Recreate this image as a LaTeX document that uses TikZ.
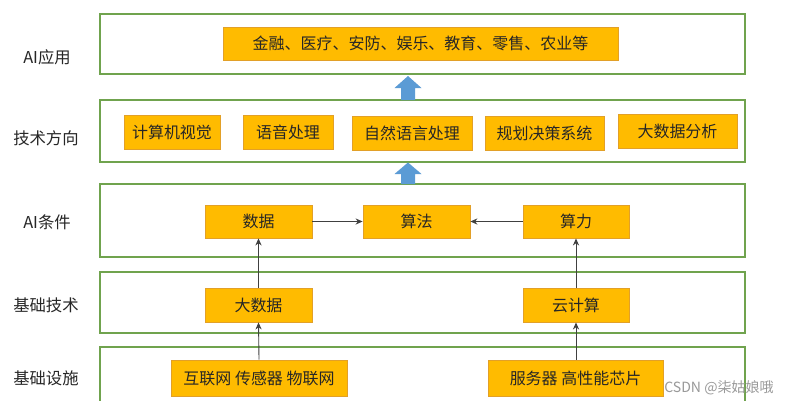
\documentclass[tikz,border=0pt]{standalone}
\usepackage{fontspec}
\setmainfont{Noto Sans CJK SC}
\usetikzlibrary{positioning}
\usetikzlibrary{arrows.meta}
\definecolor{bandgreen}{RGB}{112,163,78}
\definecolor{boxorange}{RGB}{255,187,0}
\definecolor{boxedge}{RGB}{226,160,40}
\definecolor{arrowblue}{RGB}{91,155,213}
\begin{document}
\begin{tikzpicture}[x=0.02cm,y=-0.02cm,
  band/.style={draw=bandgreen,line width=1.4pt},
  item/.style={rectangle,draw=boxedge,fill=boxorange,line width=0.5pt,inner sep=0pt,font=\fontsize{9.1}{11}\selectfont,text=black!85},
  layer/.style={font=\fontsize{9.3}{11}\selectfont,text=black!85},
  feed/.style={draw=black!75,line width=0.5pt,-{Stealth[length=4pt,width=3.5pt]}}]
\useasboundingbox (0,0) rectangle (789,400);
\fill[white] (0,0) rectangle (789,400);
\draw[band] (100,14) rectangle (745,74);
\draw[band] (100,100) rectangle (745,162);
\draw[band] (100,184) rectangle (745,257);
\draw[band] (100,272) rectangle (745,333);
\draw[band] (100,347) rectangle (745,412);

\node[layer] (lapp) at (47,57) {AI应用};
\node[layer] (ldir) at (46,138) {技术方向};
\node[layer] (lcond) at (47,222) {AI条件};
\node[layer] (lbase) at (46,305) {基础技术};
\node[layer] (linfra) at (46,378) {基础设施};

\node[item,minimum width=7.9cm,minimum height=0.66cm] (apps) at (420.5,43.5) {金融、医疗、安防、娱乐、教育、零售、农业等};

\node[item,minimum width=1.92cm,minimum height=0.68cm] (cv) at (172,132) {计算机视觉};
\node[item,minimum width=1.8cm,minimum height=0.68cm] (speech) at (288,132) {语音处理};
\node[item,minimum width=2.4cm,minimum height=0.68cm] (nlp) at (412,133.5) {自然语言处理};
\node[item,minimum width=2.38cm,minimum height=0.68cm] (plan) at (544.5,133) {规划决策系统};
\node[item,minimum width=2.38cm,minimum height=0.68cm] (bdana) at (677.5,131.5) {大数据分析};

\node[item,minimum width=2.14cm,minimum height=0.66cm] (data) at (258.5,221.5) {数据};
\node[item,minimum width=2.14cm,minimum height=0.66cm] (algo) at (416.5,221.5) {算法};
\node[item,minimum width=2.12cm,minimum height=0.66cm] (power) at (576,221.5) {算力};

\node[item,minimum width=2.14cm,minimum height=0.68cm] (bigdata) at (258.5,305) {大数据};
\node[item,minimum width=2.12cm,minimum height=0.68cm] (cloud) at (576,305) {云计算};

\node[item,minimum width=3.52cm,minimum height=0.72cm] (net) at (259,378) {互联网 传感器 物联网};
\node[item,minimum width=3.5cm,minimum height=0.72cm] (chip) at (575.5,378) {服务器 高性能芯片};

\draw[feed] (data) -- (algo);
\draw[feed] (power) -- (algo);
\draw[feed] (bigdata) -- (data);
\draw[feed] (cloud) -- (power);
\draw[feed] (net.north) -- (bigdata.south);
\draw[feed] (chip.north -| cloud) -- (cloud.south);

\fill[arrowblue] (401,100) -- (401,88) -- (394.5,88) -- (408,76) -- (421.5,88) -- (415,88) -- (415,100) -- cycle;
\fill[arrowblue] (401,184) -- (401,174) -- (394.5,174) -- (408,162.5) -- (421.5,174) -- (415,174) -- (415,184) -- cycle;

\node[font=\fontsize{8}{10}\selectfont,text=black!40,anchor=east] (mark) at (780,388) {CSDN @柒姑娘哦};
\end{tikzpicture}
\end{document}
